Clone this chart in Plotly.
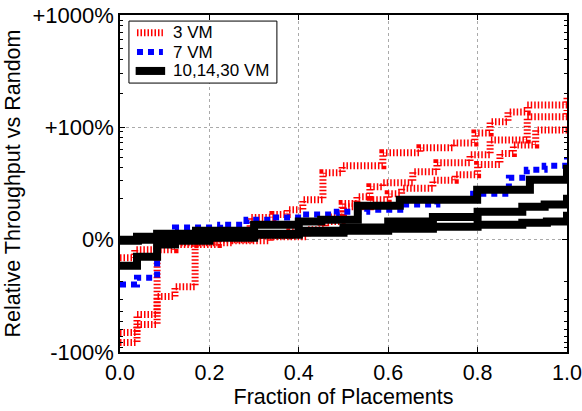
import math
import plotly.graph_objects as go

# ---- data (percent relative throughput vs random), step CDFs ----
r1_x = [0.0, 0.033, 0.083, 0.168, 0.291, 0.342, 0.374, 0.409, 0.454, 0.497, 0.588, 0.671, 0.745, 0.794, 0.828, 0.868, 0.911, 1.0]
r1_v = [-11.7, -8.9, -4.4, 7.1, 12.8, 13.7, 15.3, 19.2, 35.6, 41.7, 56, 62.8, 70, 88, 112, 137, 158, 187]

r2_x = [0.0, 0.038, 0.083, 0.123, 0.168, 0.22, 0.3, 0.38, 0.45, 0.497, 0.53, 0.559, 0.588, 0.655, 0.709, 0.783, 0.828, 0.911, 1.0]
r2_v = [-64.2, -42.6, -28.3, -22.6, -4.4, 0, 3.6, 7.1, 11.7, 17.6, 20.6, 25.8, 28.3, 36.3, 44.6, 53.5, 75, 124, 143]

r3_x = [0.0, 0.038, 0.083, 0.123, 0.25, 0.336, 0.42, 0.46, 0.5, 0.56, 0.6, 0.63, 0.7, 0.75, 0.8, 0.85, 0.88, 0.93, 1.0]
r3_v = [-80.6, -53.5, -8.9, -2.7, -1, 2.7, 8.9, 13, 16.4, 19.2, 22, 25, 30, 34, 43, 55, 67, 94, 105]

b7_x = [0.0, 0.038, 0.083, 0.123, 0.224, 0.283, 0.336, 0.409, 0.485, 0.553, 0.64, 0.71, 0.79, 0.87, 0.91, 0.95, 1.0]
b7_v = [-21.5, -18.4, -2.7, 10.2, 10.9, 12.2, 12.8, 13.7, 14.6, 15.3, 17.2, 19.2, 22, 31.7, 38, 41.7, 50]

k1_x = [0.0, 0.038, 0.083, 0.17, 0.3, 0.4, 0.45, 0.532, 0.626, 0.799, 0.917, 1.0]
k1_v = [0, 2.7, 5.3, 8, 10.9, 11.7, 12.2, 16.8, 19.2, 24.1, 30.3, 42.6]

k2_x = [0.0, 0.038, 0.083, 0.123, 0.2, 0.3, 0.4, 0.5, 0.6, 0.7, 0.8, 0.9, 0.95, 1.0]
k2_v = [-14, -11.4, -4.4, -0.9, 1.8, 5.3, 8, 10.2, 11.7, 13, 14.6, 16.4, 17.2, 21.5]

k3_x = [0.0, 0.04, 0.1, 0.2, 0.3, 0.4, 0.5, 0.6, 0.7, 0.8, 0.9, 0.955, 1.0]
k3_v = [-0.9, 0, 1.8, 3.6, 4.4, 6.2, 8, 9.8, 10.4, 10.9, 11.4, 11.7, 14.6]

legend_names = ["3 VM", "7 VM", "10,14,30 VM"]

y_tick_vals = [-100, 0, 100, 1000]
y_tick_text = ["-100%", "0%", "+100%", "+1000%"]
y_minor_vals = [-90, -80, -70, -60, -50, -40, -30, -20,
                20, 30, 40, 50, 60, 70, 80, 90,
                200, 300, 400, 500, 600, 700, 800, 900]


def tr(v):
    """symmetric log-like axis transform: +-100% -> +-1, +1000% -> 2"""
    a = abs(v)
    s = 1 if v >= 0 else -1
    if a <= 10:
        return v / 100.0
    if a <= 100:
        return s * (0.1 + 0.9 * math.log10(a / 10.0))
    return s * (1 + math.log10(a / 100.0))


FONT = "Liberation Sans, Arial, sans-serif"
fig = go.Figure()

red = dict(color="#ff0000", width=7, dash="1.5px,2px")
blue = dict(color="#0000ff", width=6, dash="6px,5px")
black = dict(color="#000000", width=8)
styles = [red, blue, black]

for xs, vs in [(r1_x, r1_v), (r2_x, r2_v), (r3_x, r3_v)]:
    fig.add_trace(go.Scatter(x=xs, y=[tr(v) for v in vs], mode="lines", line=red,
                             line_shape="hv", name=legend_names[0], showlegend=False))
fig.add_trace(go.Scatter(x=b7_x, y=[tr(v) for v in b7_v], mode="lines", line=blue,
                         line_shape="hv", name=legend_names[1], showlegend=False))
for xs, vs in [(k1_x, k1_v), (k2_x, k2_v), (k3_x, k3_v)]:
    fig.add_trace(go.Scatter(x=xs, y=[tr(v) for v in vs], mode="lines", line=black,
                             line_shape="hv", name=legend_names[2], showlegend=False))

# ---- compact legend box (paper coordinates) ----
shapes = [dict(type="rect", xref="paper", yref="paper", x0=0.020, x1=0.351,
               y0=0.798, y1=0.982, line=dict(color="black", width=1),
               fillcolor="white", layer="above")]
annotations = []
leg_y = [0.947, 0.890, 0.834]
for name, st, yy in zip(legend_names, styles, leg_y):
    ln = dict(color=st["color"], width=st["width"])
    if "dash" in st:
        ln["dash"] = st["dash"]
    x0 = 0.035 if st is black else 0.038
    x1 = 0.101 if st is black else 0.096
    shapes.append(dict(type="line", xref="paper", yref="paper", x0=x0, x1=x1,
                       y0=yy, y1=yy, line=ln, layer="above"))
    annotations.append(dict(xref="paper", yref="paper", x=0.116, y=yy, text=name,
                            showarrow=False, xanchor="left", yanchor="middle",
                            borderpad=0, font=dict(size=17, color="black")))

fig.update_layout(
    width=582, height=411,
    margin=dict(l=120, r=15, t=15, b=59),
    paper_bgcolor="white", plot_bgcolor="white",
    font=dict(family=FONT, size=21, color="black"),
    showlegend=False,
    shapes=shapes, annotations=annotations,
)
fig.update_xaxes(
    range=[0, 1], tickmode="array", tickvals=[0, 0.2, 0.4, 0.6, 0.8, 1.0],
    ticktext=["0.0", "0.2", "0.4", "0.6", "0.8", "1.0"],
    showgrid=True, gridcolor="#aaaaaa", griddash="dot", gridwidth=1,
    showline=True, linecolor="black", linewidth=1.5, mirror="ticks",
    ticks="inside", ticklen=5, tickcolor="black",
    zeroline=False, automargin=False,
    title=dict(text="Fraction of Placements", font=dict(size=21.5), standoff=2),
    tickfont=dict(size=21.5),
)
fig.update_yaxes(
    range=[-1, 2], tickmode="array", tickvals=[tr(v) for v in y_tick_vals],
    ticktext=y_tick_text,
    showgrid=True, gridcolor="#aaaaaa", griddash="dot", gridwidth=1,
    showline=True, linecolor="black", linewidth=1.5, mirror="ticks",
    ticks="inside", ticklen=5, tickcolor="black",
    zeroline=False, automargin=False,
    minor=dict(tickmode="array", tickvals=[tr(v) for v in y_minor_vals],
               ticks="inside", ticklen=3, tickcolor="black", showgrid=False),
    title=dict(text="Relative Throughput vs Random", font=dict(size=21.5), standoff=6),
    tickfont=dict(size=22),
)

fig.write_html("out.html")
